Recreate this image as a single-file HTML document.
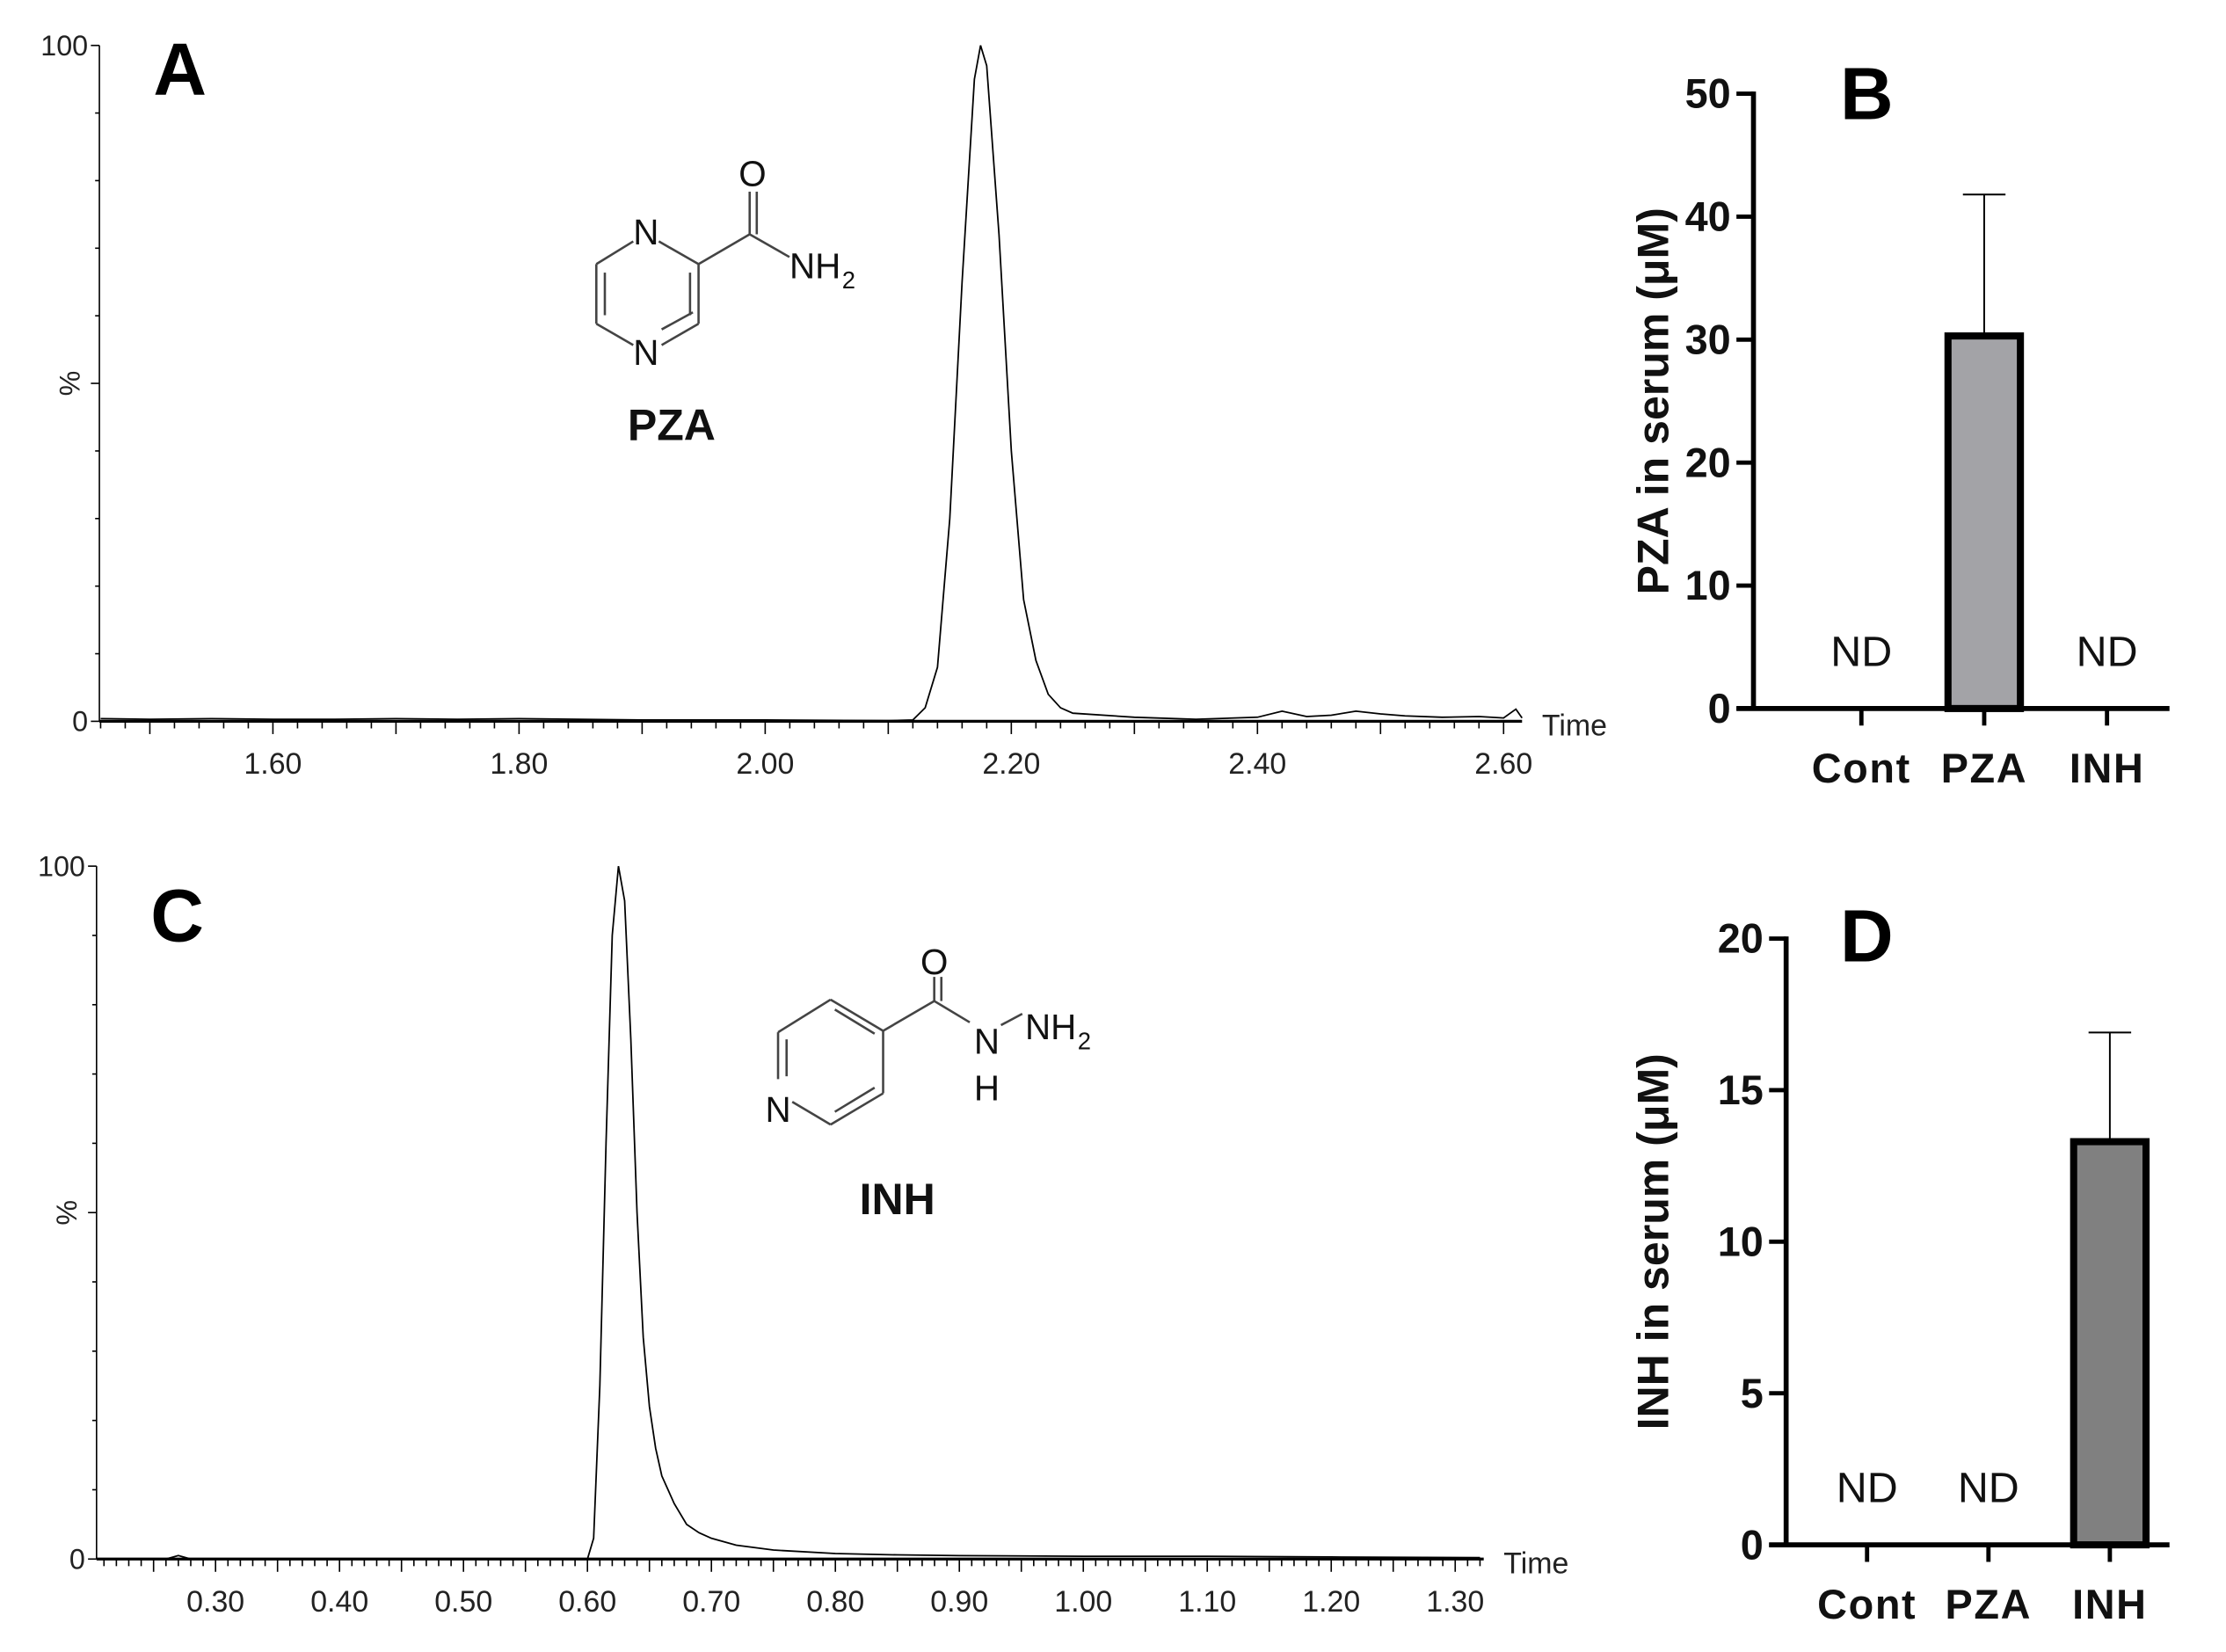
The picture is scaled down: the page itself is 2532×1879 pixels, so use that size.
<!DOCTYPE html>
<html><head><meta charset="utf-8">
<style>
html,body{margin:0;padding:0;background:#fff;}
svg{display:block;}
text{font-family:"Liberation Sans",sans-serif;}
.narrow{font-family:"Liberation Sans Narrow","Liberation Sans",sans-serif;}
</style></head>
<body>
<svg id="fig" width="2532" height="1879" viewBox="0 0 2532 1879" xmlns="http://www.w3.org/2000/svg">
<g id="root" transform="scale(1.615)"></g>
</svg>
<script>
// ---- Chromatogram A (PZA) data ----
const pzaTimes = [1.46,1.50,1.55,1.60,1.65,1.70,1.75,1.80,1.90,2.00,2.10,2.12,2.13,2.14,2.15,2.16,2.17,2.175,2.18,2.19,2.20,2.21,2.22,2.23,2.24,2.25,2.30,2.35,2.40,2.42,2.44,2.46,2.48,2.50,2.52,2.55,2.58,2.60,2.61,2.615];
const pzaIntensity = [0.4,0.3,0.4,0.3,0.3,0.4,0.3,0.4,0.2,0.2,0.1,0.2,2,8,30,65,95,100,97,72,40,18,9,4,2,1.2,0.6,0.3,0.6,1.5,0.7,0.9,1.5,1.1,0.8,0.6,0.7,0.5,1.8,0.5];
const pzaTickLabels = ["1.60","1.80","2.00","2.20","2.40","2.60"];
const pzaTickValues = [1.60,1.80,2.00,2.20,2.40,2.60];
// ---- Chromatogram C (INH) data ----
const inhTimes = [0.205,0.26,0.27,0.28,0.40,0.50,0.60,0.605,0.61,0.615,0.62,0.625,0.63,0.635,0.64,0.645,0.65,0.655,0.66,0.67,0.68,0.69,0.70,0.72,0.75,0.80,0.85,0.90,1.00,1.10,1.20,1.32];
const inhIntensity = [0,0,0.5,0,0,0,0,3,25,60,90,100,95,75,50,32,22,16,12,8,5,3.8,3,2,1.3,0.8,0.6,0.5,0.4,0.4,0.3,0.2];
const inhTickLabels = ["0.30","0.40","0.50","0.60","0.70","0.80","0.90","1.00","1.10","1.20","1.30"];
const inhTickValues = [0.30,0.40,0.50,0.60,0.70,0.80,0.90,1.00,1.10,1.20,1.30];
// ---- Bar chart B ----
const bCategories = ["Cont","PZA","INH"];
const bValues = [null,30.3,null];
const bErrors = [null,11.5,null];
const bTicks = [0,10,20,30,40,50];
// ---- Bar chart D ----
const dCategories = ["Cont","PZA","INH"];
const dValues = [null,null,13.3];
const dErrors = [null,null,3.6];
const dTicks = [0,5,10,15,20];

const NS="http://www.w3.org/2000/svg";
const root=document.getElementById('root');
function mk(tag,attrs,parent,txt){const e=document.createElementNS(NS,tag);for(const k in attrs)e.setAttribute(k,attrs[k]);if(txt!==undefined)e.textContent=txt;(parent||root).appendChild(e);return e;}

function chromatogram(cfg){
  const g=mk('g',{});
  
  
  const xs=t=>cfg.x0+(t-cfg.t0)/(cfg.t1-cfg.t0)*(cfg.x1-cfg.x0);
  const ys=v=>cfg.yb-(v/100)*(cfg.yb-cfg.yt);
  const ax=mk('line',{x1:cfg.x0,y1:cfg.yt,x2:cfg.x0,y2:cfg.yb,stroke:'#000','stroke-width':1},g);
  
  
  for(let v=0;v<=100;v+=10){mk('line',{x1:cfg.x0-(v%50===0?6:3),y1:ys(v),x2:cfg.x0,y2:ys(v),stroke:'#000','stroke-width':1},g);}
  const yl=[["100",100],["0",0]];
  yl.forEach(([s,v])=>{const t=mk('text',{x:cfg.x0-8,y:ys(v)+7,'text-anchor':'end','font-size':20,class:'narrow',fill:'#222'},g,s);});
  const pc=mk('text',{x:0,y:0,'font-size':20,class:'narrow',fill:'#222',transform:`translate(${cfg.x0-14},${ys(50)}) rotate(-90)`,'text-anchor':'middle'},g,'%');
  
  
  const xa=mk('line',{x1:cfg.x0,y1:cfg.yb,x2:cfg.x1,y2:cfg.yb,stroke:'#000','stroke-width':2},g);
  
  
  const start=Math.ceil(cfg.t0/cfg.minor-1e-6);
  for(let i=start;i*cfg.minor<=cfg.t1+1e-9;i++){const t=i*cfg.minor;const major=Math.abs(t/cfg.majorEvery-Math.round(t/cfg.majorEvery))<1e-6;
    mk('line',{x1:xs(t),y1:cfg.yb,x2:xs(t),y2:cfg.yb+(major?9:5),stroke:'#000','stroke-width':1},g);}
  cfg.tickValues.forEach((v,i)=>{const t=mk('text',{x:xs(v),y:cfg.yb+37,'text-anchor':'middle','font-size':21,class:'narrow',fill:'#222'},g,cfg.tickLabels[i]);});
  const tt=mk('text',{x:cfg.x1+14,y:cfg.yb+10,'font-size':21,class:'narrow',fill:'#222'},g,'Time');
  
  
  let d='';cfg.times.forEach((t,i)=>{d+=(i?'L':'M')+xs(t).toFixed(2)+','+ys(cfg.vals[i]).toFixed(2);});
  const p=mk('path',{d:d,fill:'none',stroke:'#000','stroke-width':1.1},g);
  
  
}
chromatogram({name:'chromatogram-pza',x0:70,x1:1072,yt:32,yb:508,t0:1.459,t1:2.615,minor:0.02,majorEvery:0.1,times:pzaTimes,vals:pzaIntensity,tickLabels:pzaTickLabels,tickValues:pzaTickValues});
chromatogram({name:'chromatogram-inh',x0:68,x1:1045,yt:610,yb:1098,t0:0.204,t1:1.323,minor:0.01,majorEvery:0.05,times:inhTimes,vals:inhIntensity,tickLabels:inhTickLabels,tickValues:inhTickValues});

function barChart(cfg){
  const g=mk('g',{});
  
  
  const ys=v=>cfg.yb-(v/cfg.max)*(cfg.yb-cfg.yt);
  const ya=mk('line',{x1:cfg.x0,y1:cfg.yt-1.5,x2:cfg.x0,y2:cfg.yb+1.5,stroke:'#000','stroke-width':3.5},g);
  
  
  cfg.ticks.forEach(v=>{mk('line',{x1:cfg.x0-12,y1:ys(v),x2:cfg.x0,y2:ys(v),stroke:'#000','stroke-width':3},g);
    const t=mk('text',{x:cfg.x0-16,y:ys(v)+10,'text-anchor':'end','font-size':29,'font-weight':'bold',fill:'#111'},g,String(v));
    
    });
  const xa=mk('line',{x1:cfg.x0-12,y1:cfg.yb,x2:cfg.x1,y2:cfg.yb,stroke:'#000','stroke-width':3.5},g);
  
  
  const step=cfg.catStep;
  cfg.cats.forEach((c,i)=>{const cx=cfg.c0+i*step;
    mk('line',{x1:cx,y1:cfg.yb,x2:cx,y2:cfg.yb+12,stroke:'#000','stroke-width':3},g);
    const t=mk('text',{x:cx,y:cfg.yb+52,'text-anchor':'middle','font-size':29,'font-weight':'bold',fill:'#111','letter-spacing':1},g,c);
    
    
    const v=cfg.vals[i];
    if(v===null){const nd=mk('text',{x:cx,y:cfg.yb-30,'text-anchor':'middle','font-size':30,fill:'#111'},g,'ND');
      
      }
    else{const e=cfg.errs[i];
      const el=mk('line',{x1:cx,y1:ys(v+e),x2:cx,y2:ys(v),stroke:'#000','stroke-width':1.2},g);
      
      
      mk('line',{x1:cx-15,y1:ys(v+e),x2:cx+15,y2:ys(v+e),stroke:'#000','stroke-width':1.2},g);
      const r=mk('rect',{x:cx-cfg.bw/2+2.5,y:ys(v),width:cfg.bw-5,height:cfg.yb-ys(v),fill:cfg.fill,stroke:'#000','stroke-width':5},g);
      
      }
  });
  const tl=mk('text',{x:0,y:0,'font-size':31,'font-weight':'bold',fill:'#111','text-anchor':'middle',transform:`translate(${cfg.titleX},${(cfg.yt+cfg.yb)/2}) rotate(-90)`},g,cfg.title);
  
  
}
barChart({name:'bar-chart-pza',x0:1235,x1:1528,yt:66,yb:499,max:50,ticks:bTicks,cats:bCategories,vals:bValues,errs:bErrors,c0:1311,catStep:86.5,bw:56,fill:'#a3a3a7',title:'PZA in serum (μM)',titleX:1175});
barChart({name:'bar-chart-inh',x0:1258,x1:1528,yt:661,yb:1088,max:20,ticks:dTicks,cats:dCategories,vals:dValues,errs:dErrors,c0:1315,catStep:85.5,bw:56,fill:'#808080',title:'INH in serum (μM)',titleX:1175});

// panel letters
[['A',108,67],['B',1296,84],['C',106,663],['D',1296,677]].forEach(([s,x,y])=>{const t=mk('text',{x:x,y:y,'font-size':52,'font-weight':'bold',fill:'#000'},root,s);
  
  });

// PZA structure
const pz=mk('g',{stroke:'#444','stroke-width':1.6,fill:'none'});


[[464,170,492,186],[492,186,492,228],[492,228,466,243],[446,243,420,228],[420,228,420,186],[420,186,446,170],[486,192,486,222],[426,192,426,222],[488,220,466,232],[492,186,528,165],[528,165,556,181],[528,165,528,135],[533,165,533,135]].forEach(l=>mk('line',{x1:l[0],y1:l[1],x2:l[2],y2:l[3]},pz));
[['N',455,172],['N',455,257],['O',530,131],['NH',556,196]].forEach(([s,x,y])=>mk('text',{x:x,y:y,'text-anchor':s==='NH'?'start':'middle','font-size':25,fill:'#111',stroke:'none'},pz,s));
mk('text',{x:593,y:203,'font-size':17,fill:'#111',stroke:'none'},pz,'2');
const pzl=mk('text',{x:473,y:310,'text-anchor':'middle','font-size':31,'font-weight':'bold',fill:'#111'},root,'PZA');



// INH structure
const ih=mk('g',{stroke:'#444','stroke-width':1.6,fill:'none'});


[[585,704,622,726],[622,726,622,770],[622,770,585,792],[585,792,558,776],[548,760,548,727],[548,727,585,704],[588,711,616,728],[616,766,588,783],[554,732,554,758],[622,726,658,705],[658,705,683,720],[658,705,658,688],[663,705,663,688],[705,722,720,714]].forEach(l=>mk('line',{x1:l[0],y1:l[1],x2:l[2],y2:l[3]},ih));
[['N',548,790],['O',658,686],['N',695,742],['H',695,775]].forEach(([s,x,y])=>mk('text',{x:x,y:y,'text-anchor':'middle','font-size':25,fill:'#111',stroke:'none'},ih,s));
mk('text',{x:722,y:732,'font-size':25,fill:'#111',stroke:'none'},ih,'NH');
mk('text',{x:759,y:739,'font-size':17,fill:'#111',stroke:'none'},ih,'2');
const ihl=mk('text',{x:632,y:855,'text-anchor':'middle','font-size':31,'font-weight':'bold',fill:'#111'},root,'INH');


</script>
</body></html>
